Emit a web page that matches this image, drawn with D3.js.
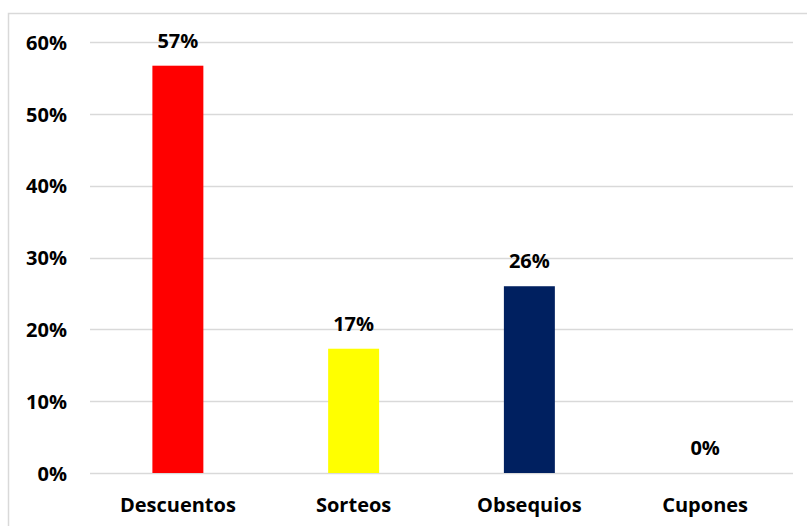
<!DOCTYPE html>
<html>
<head>
<meta charset="utf-8">
<script src="https://cdn.jsdelivr.net/npm/d3@7"></script>
<style>
  html, body { margin: 0; padding: 0; background: #fff; }
  svg { display: block; }
  text { font-family: "Open Sans", Lato, sans-serif; font-weight: 700; fill: #000; }
</style>
</head>
<body>
<svg id="chart" width="807" height="526"></svg>
<script>
// Preferred promotion type (share of respondents)
const categories = ["Descuentos", "Sorteos", "Obsequios", "Cupones"];
const shares = [0.567, 0.173, 0.260, 0.0];
const barColors = ["#FF0000", "#FFFF00", "#002060", "#7F7F7F"];
const yTicks = [0, 0.1, 0.2, 0.3, 0.4, 0.5, 0.6];

const FONT = "'Open Sans', Lato, sans-serif";
const FS = 20;
const svg = d3.select("#chart");
const W = 807, H = 526;
const margin = { top: 42, right: 14, bottom: 53, left: 90 };

// chart frame
svg.append("rect")
  .attr("x", 8.5).attr("y", 13.5)
  .attr("width", W).attr("height", H)
  .attr("fill", "none").attr("stroke", "#d9d9d9").attr("stroke-width", 1.5);

const x = d3.scaleBand()
  .domain(categories)
  .range([margin.left, W - margin.right])
  .paddingInner(0.71).paddingOuter(0.355);

const y = d3.scaleLinear()
  .domain([0, 0.6])
  .range([H - margin.bottom, margin.top]);

// gridlines
svg.append("g")
  .selectAll("line")
  .data(yTicks)
  .join("line")
  .attr("x1", margin.left).attr("x2", W - margin.right)
  .attr("y1", d => Math.round(y(d)) + 0.5).attr("y2", d => Math.round(y(d)) + 0.5)
  .attr("stroke", "#d9d9d9").attr("stroke-width", 1.5);

// y axis labels
const yAxis = d3.axisLeft(y).tickValues(yTicks).tickFormat(d3.format(".0%")).tickSize(0).tickPadding(23);
const gy = svg.append("g").attr("transform", `translate(${margin.left},0)`).call(yAxis);
gy.select(".domain").remove();
gy.selectAll("text").attr("font-size", FS).attr("dy", "0.36em")
  .style("font-family", FONT).style("font-weight", 700);

// x axis labels
const xAxis = d3.axisBottom(x).tickSize(0).tickPadding(25);
const gx = svg.append("g").attr("transform", `translate(0,${H - margin.bottom})`).call(xAxis);
gx.select(".domain").remove();
gx.selectAll("text").attr("font-size", FS)
  .style("font-family", FONT).style("font-weight", 700);

// bars
svg.append("g")
  .selectAll("rect")
  .data(categories)
  .join("rect")
  .attr("x", d => x(d))
  .attr("width", x.bandwidth())
  .attr("y", (d, i) => y(shares[i]))
  .attr("height", (d, i) => y(0) - y(shares[i]))
  .attr("fill", (d, i) => barColors[i]);

// value labels
svg.append("g")
  .selectAll("text")
  .data(categories)
  .join("text")
  .attr("x", d => x(d) + x.bandwidth() / 2)
  .attr("y", (d, i) => y(shares[i]) - 18)
  .attr("text-anchor", "middle")
  .attr("font-size", FS)
  .text((d, i) => d3.format(".0%")(shares[i]));
</script>
</body>
</html>
